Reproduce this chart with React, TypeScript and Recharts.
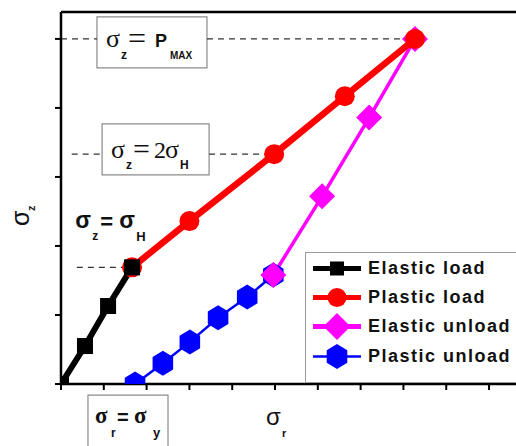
import React from 'react';
import { LineChart, Line, XAxis, YAxis, ReferenceLine, ReferenceArea, Legend } from 'recharts';

// ---- data (axis units: x ticks 0..10, y ticks 0..5) ----
const elasticLoadX = [0, 0.56, 1.1, 1.66];
const elasticLoadY = [0, 0.55, 1.13, 1.69];
const plasticLoadX = [1.66, 3.0, 4.98, 6.63, 8.27];
const plasticLoadY = [1.69, 2.36, 3.33, 4.17, 5.0];
const elasticUnloadX = [8.27, 7.2, 6.1, 4.96];
const elasticUnloadY = [5.0, 3.86, 2.72, 1.58];
const plasticUnloadX = [1.73, 2.38, 3.01, 3.67, 4.35, 4.96];
const plasticUnloadY = [0, 0.3, 0.61, 0.96, 1.26, 1.58];
const seriesNames = ['Elastic load', 'Plastic load', 'Elastic unload', 'Plastic unload'];
const xTicks = [0, 1, 2, 3, 4, 5, 6, 7, 8, 9, 10];
const yTicks = [0, 1, 2, 3, 4, 5];
const X_MAX = 10.63;
const Y_MAX = 5.39;
const levelPmax = 5.0;
const level2H = 3.33;
const levelH = 1.69;

const zip = (xs: number[], ys: number[]) => xs.map((x, i) => ({ x, y: ys[i] }));
const elasticLoad = zip(elasticLoadX, elasticLoadY);
const plasticLoad = zip(plasticLoadX, plasticLoadY);
const elasticUnload = zip(elasticUnloadX, elasticUnloadY);
const plasticUnload = zip(plasticUnloadX, plasticUnloadY);

const SERIF = '"Liberation Serif", "Times New Roman", serif';
const SANS = '"Liberation Sans", Arial, sans-serif';

type Kind = 'square' | 'circle' | 'diamond' | 'hexagon';

function Marker({ kind, cx, cy, size, color }: { kind: Kind; cx: number; cy: number; size: number; color: string }) {
  if (cx == null || cy == null || isNaN(cx) || isNaN(cy)) return <g />;
  const h = size / 2;
  if (kind === 'square') return <rect x={cx - h} y={cy - h} width={size} height={size} fill={color} />;
  if (kind === 'circle') return <circle cx={cx} cy={cy} r={h} fill={color} />;
  if (kind === 'diamond')
    return <polygon points={`${cx},${cy - h} ${cx + h},${cy} ${cx},${cy + h} ${cx - h},${cy}`} fill={color} />;
  const pts: string[] = [];
  for (let k = 0; k < 6; k++) {
    const a = (Math.PI / 180) * (90 + 60 * k);
    pts.push(`${cx + h * 0.95 * Math.cos(a)},${cy - h * Math.sin(a)}`);
  }
  return <polygon points={pts.join(' ')} fill={color} />;
}

const dotFor = (kind: Kind, size: number, color: string) => (p: any) =>
  <Marker key={`m-${p.index}`} kind={kind} cx={p.cx} cy={p.cy} size={size} color={color} />;

type Span = { t: string; x: number; y: number; s: number; f?: 'serif' | 'sans'; b?: boolean };
function Spans({ ox, oy, spans }: { ox: number; oy: number; spans: Span[] }) {
  return (
    <g>
      {spans.map((sp, i) => (
        <text key={i} x={ox + sp.x} y={oy + sp.y} fontSize={sp.s}
          fontFamily={sp.f === 'serif' ? SERIF : SANS} fontWeight={sp.b ? 'bold' : 'normal'} fill="#111">
          {sp.t}
        </text>
      ))}
    </g>
  );
}

const pmaxSpans: Span[] = [
  { t: 'σ', x: 9, y: 30, s: 26, f: 'serif' },
  { t: 'z', x: 24, y: 42, s: 12, b: true },
  { t: '=', x: 31, y: 32, s: 32, f: 'serif' },
  { t: 'P', x: 58, y: 30, s: 18, b: true },
  { t: 'MAX', x: 73, y: 42, s: 10, b: true },
];
const twoHSpans: Span[] = [
  { t: 'σ', x: 9, y: 34, s: 26, f: 'serif' },
  { t: 'z', x: 24, y: 45, s: 12, b: true },
  { t: '=', x: 31, y: 35, s: 30, f: 'serif' },
  { t: '2', x: 52, y: 34, s: 24, f: 'serif' },
  { t: 'σ', x: 63, y: 34, s: 26, f: 'serif' },
  { t: 'H', x: 78, y: 45, s: 12, b: true },
];
const hSpans: Span[] = [
  { t: 'σ', x: 0, y: 17, s: 23, b: true },
  { t: 'z', x: 17, y: 29, s: 12, b: true },
  { t: '=', x: 25, y: 18, s: 22, b: true },
  { t: 'σ', x: 44, y: 17, s: 23, b: true },
  { t: 'H', x: 61, y: 30, s: 13, b: true },
];
const rySpans: Span[] = [
  { t: 'σ', x: 7, y: 28, s: 23, f: 'serif', b: true },
  { t: 'r', x: 23, y: 42, s: 12, b: true },
  { t: '=', x: 29, y: 29, s: 20, b: true },
  { t: 'σ', x: 46, y: 28, s: 23, f: 'serif', b: true },
  { t: 'y', x: 65, y: 42, s: 13, b: true },
];

const spanLabel = (spans: Span[]) => (props: any) => {
  const vb = props.viewBox || {};
  return <Spans ox={vb.x} oy={vb.y} spans={spans} />;
};

const legendItems: { kind: Kind; color: string; lw: number; size: number }[] = [
  { kind: 'square', color: '#000000', lw: 5, size: 14 },
  { kind: 'circle', color: '#ff0000', lw: 5, size: 19 },
  { kind: 'diamond', color: '#ff00ff', lw: 5, size: 27 },
  { kind: 'hexagon', color: '#0000ff', lw: 2.5, size: 25 },
];

function LegendBox() {
  return (
    <div style={{ width: 230, height: 131, border: '1px solid #9a9a9a', background: '#fff', boxSizing: 'border-box', position: 'relative' }}>
      {legendItems.map((it, i) => (
        <div key={i} style={{ position: 'absolute', left: 0, top: 1 + i * 29.2, height: 29, display: 'flex', alignItems: 'center' }}>
          <svg width={62} height={29} style={{ display: 'block' }}>
            <line x1={7} x2={55} y1={14.5} y2={14.5} stroke={it.color} strokeWidth={it.lw} />
            <Marker kind={it.kind} cx={31} cy={14.5} size={it.size} color={it.color} />
          </svg>
          <span style={{ fontFamily: SANS, fontWeight: 'bold', fontSize: 18, letterSpacing: 1.5, color: '#111', whiteSpace: 'nowrap' }}>
            {seriesNames[i]}
          </span>
        </div>
      ))}
    </div>
  );
}

const XLabel = (props: any) => {
  const vb = props.viewBox || { x: 61, y: 384 };
  return (
    <g>
      <text x={vb.x + 205} y={vb.y + 41} fontSize={24} fontFamily={SANS} fill="#111">σ</text>
      <text x={vb.x + 221} y={vb.y + 53} fontSize={11} fontFamily={SANS} fontWeight="bold" fill="#111">r</text>
    </g>
  );
};

const YLabel = () => (
  <g transform="rotate(-90, 29, 226)">
    <text x={29} y={226} fontSize={25} fontFamily={SANS} fill="#111">σ</text>
    <text x={44} y={232} fontSize={11} fontFamily={SANS} fontWeight="bold" fill="#111">z</text>
  </g>
);

const emptyTick = () => <g />;
const dash = { stroke: '#333', strokeWidth: 1.2, strokeDasharray: '6 5' };

export default function App() {
  return (
    <div style={{ position: 'absolute', left: 0, top: 0, width: 516, height: 446, overflow: 'hidden', background: '#fff' }}>
      <LineChart width={516} height={446} margin={{ top: 12, right: 0, bottom: 0, left: 0 }}>
        <XAxis type="number" dataKey="x" domain={[0, X_MAX]} ticks={xTicks} allowDataOverflow height={62}
          tick={emptyTick} tickSize={6} axisLine={{ stroke: '#000', strokeWidth: 2.5 }}
          tickLine={{ stroke: '#000', strokeWidth: 2 }} label={<XLabel />} />
        <YAxis type="number" dataKey="y" domain={[0, Y_MAX]} ticks={yTicks} allowDataOverflow width={61}
          tick={emptyTick} tickSize={6} axisLine={{ stroke: '#000', strokeWidth: 2.5 }}
          tickLine={{ stroke: '#000', strokeWidth: 2 }} label={<YLabel />} />
        <ReferenceLine y={Y_MAX} stroke="#000" strokeWidth={2.5} />
        <ReferenceLine segment={[{ x: 0, y: levelPmax }, { x: 0.84, y: levelPmax }]} {...dash} />
        <ReferenceLine segment={[{ x: 3.41, y: levelPmax }, { x: 8.27, y: levelPmax }]} {...dash} />
        <ReferenceLine segment={[{ x: 0.25, y: level2H }, { x: 0.96, y: level2H }]} {...dash} />
        <ReferenceLine segment={[{ x: 3.46, y: level2H }, { x: 4.98, y: level2H }]} {...dash} />
        <ReferenceLine segment={[{ x: 0.37, y: levelH }, { x: 1.66, y: levelH }]} {...dash} />
        <ReferenceArea x1={0.84} x2={3.41} y1={5.32} y2={4.58} fill="#fff" fillOpacity={1} stroke="#8a8a8a" strokeWidth={1.2}
          label={spanLabel(pmaxSpans)} ifOverflow="visible" />
        <ReferenceArea x1={0.96} x2={3.46} y1={3.77} y2={3.03} fill="#fff" fillOpacity={1} stroke="#8a8a8a" strokeWidth={1.2}
          label={spanLabel(twoHSpans)} ifOverflow="visible" />
        <ReferenceArea x1={0.33} x2={2.0} y1={2.51} y2={2.01} fill="none" stroke="none"
          label={spanLabel(hSpans)} ifOverflow="visible" />
        <ReferenceArea x1={0.63} x2={2.5} y1={-0.16} y2={-1.0} fill="#fff" fillOpacity={1} stroke="#8a8a8a" strokeWidth={1.2}
          label={spanLabel(rySpans)} ifOverflow="visible" />
        <Line data={plasticUnload} dataKey="y" name={seriesNames[3]} stroke="#0000ff" strokeWidth={2.5}
          dot={dotFor('hexagon', 25, '#0000ff')} activeDot={false} isAnimationActive={false} />
        <Line data={elasticUnload} dataKey="y" name={seriesNames[2]} stroke="#ff00ff" strokeWidth={3.5}
          dot={dotFor('diamond', 26, '#ff00ff')} activeDot={false} isAnimationActive={false} />
        <Line data={plasticLoad} dataKey="y" name={seriesNames[1]} stroke="#ff0000" strokeWidth={6.5}
          dot={dotFor('circle', 20, '#ff0000')} activeDot={false} isAnimationActive={false} />
        <Line data={elasticLoad} dataKey="y" name={seriesNames[0]} stroke="#000000" strokeWidth={6}
          dot={dotFor('square', 16, '#000000')} activeDot={false} isAnimationActive={false} />
        <Legend layout="vertical" align="center" verticalAlign="middle" content={() => <LegendBox />}
          wrapperStyle={{ left: 305, top: 252, width: 230, height: 131 }} />
      </LineChart>
    </div>
  );
}
